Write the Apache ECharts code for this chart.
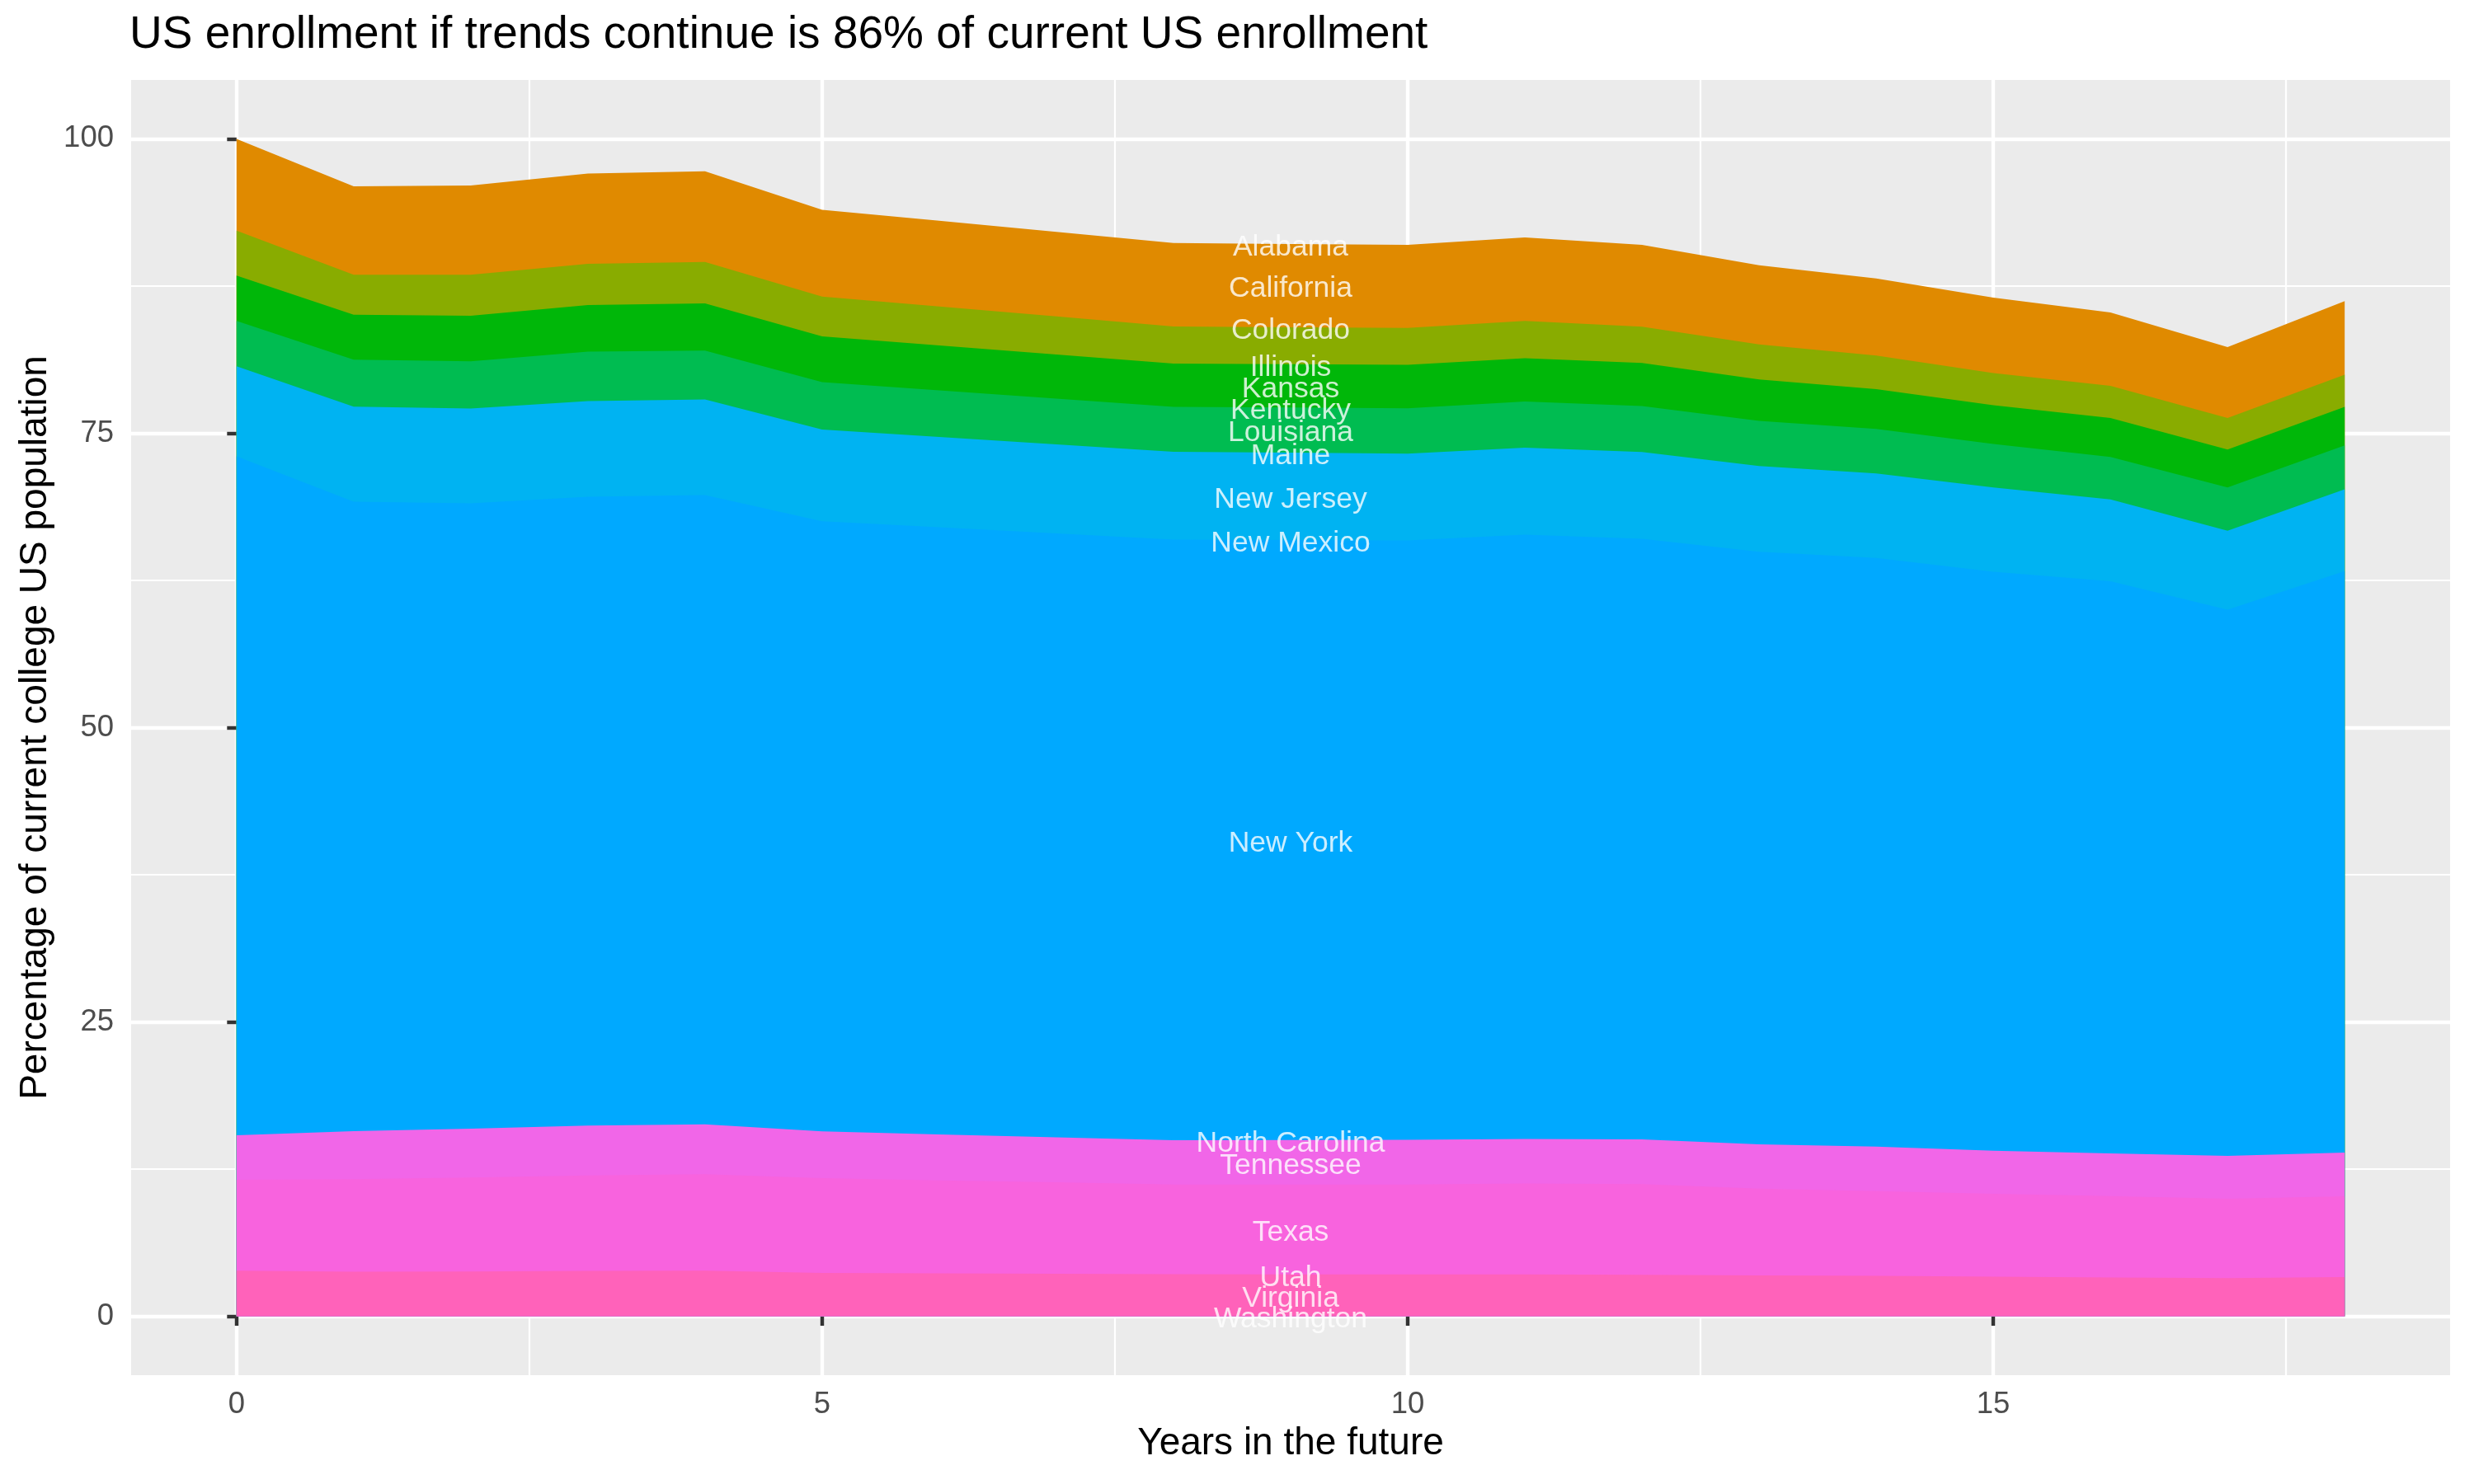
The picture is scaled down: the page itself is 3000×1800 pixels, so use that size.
<!DOCTYPE html>
<html>
<head>
<meta charset="utf-8">
<script src="https://cdn.jsdelivr.net/npm/echarts@6/dist/echarts.min.js"></script>
<style>
html,body{margin:0;padding:0;background:#ffffff;}
#chart{width:3000px;height:1800px;}
</style>
</head>
<body>
<div id="chart"></div>
<script>
// ---------- data ----------
const years = [0,1,2,3,4,5,6,7,8,9,10,11,12,13,14,15,16,17,18];
const xTicks = [0,5,10,15];
const xMinorTicks = [2.5,7.5,12.5,17.5];
const yTicks = [0,25,50,75,100];
const yMinorTicks = [12.5,37.5,62.5,87.5];
const labelYear = 9;

const Washington     = [0,0,0,0,0,0,0,0,0,0,0,0,0,0,0,0,0,0,0];
const Virginia       = [3.87,3.78,3.80,3.85,3.87,3.69,3.65,3.61,3.57,3.56,3.56,3.56,3.52,3.47,3.43,3.36,3.29,3.24,3.33];
const Utah           = [0,0,0,0,0,0,0,0,0,0,0,0,0,0,0,0,0,0,0];
const Texas          = [7.73,7.86,7.98,8.12,8.19,8.04,7.90,7.77,7.63,7.64,7.64,7.72,7.70,7.38,7.21,7.04,6.93,6.74,6.86];
const Tennessee      = [3.77,4.08,4.15,4.22,4.24,3.97,3.90,3.82,3.75,3.77,3.79,3.78,3.80,3.75,3.78,3.67,3.61,3.64,3.71];
const NorthCarolina  = [0,0,0,0,0,0,0,0,0,0,0,0,0,0,0,0,0,0,0];
const NewYork        = [57.67,53.47,53.12,53.41,53.45,51.83,51.56,51.29,51.02,50.96,50.91,51.33,51.02,50.34,49.98,49.17,48.59,46.40,49.38];
const NewMexico      = [0,0,0,0,0,0,0,0,0,0,0,0,0,0,0,0,0,0,0];
const NewJersey      = [7.65,8.07,8.04,8.12,8.11,7.79,7.68,7.57,7.46,7.42,7.37,7.39,7.37,7.28,7.19,7.16,6.95,6.69,6.96];
const Maine          = [0,0,0,0,0,0,0,0,0,0,0,0,0,0,0,0,0,0,0];
const Louisiana      = [3.84,3.99,4.01,4.20,4.16,4.01,3.94,3.87,3.80,3.83,3.85,3.92,3.89,3.83,3.78,3.69,3.62,3.69,3.73];
const Kentucky       = [0,0,0,0,0,0,0,0,0,0,0,0,0,0,0,0,0,0,0];
const Kansas         = [3.85,3.82,3.88,3.97,4.01,3.90,3.83,3.76,3.69,3.68,3.68,3.66,3.67,3.52,3.38,3.28,3.31,3.22,3.26];
const Illinois       = [0,0,0,0,0,0,0,0,0,0,0,0,0,0,0,0,0,0,0];
const Idaho          = [3.83,3.38,3.47,3.50,3.52,3.38,3.30,3.23,3.15,3.14,3.15,3.17,3.07,2.98,2.85,2.73,2.73,2.68,2.74];
const Colorado       = [0,0,0,0,0,0,0,0,0,0,0,0,0,0,0,0,0,0,0];
const California     = [7.79,7.51,7.58,7.67,7.70,7.37,7.28,7.18,7.09,7.07,7.05,7.09,6.96,6.72,6.55,6.42,6.23,6.02,6.24];
const Alabama        = [0,0,0,0,0,0,0,0,0,0,0,0,0,0,0,0,0,0,0];

// stack order, bottom to top
const stackNames = ['Washington','Virginia','Utah','Texas','Tennessee','North Carolina','New York','New Mexico',
  'New Jersey','Maine','Louisiana','Kentucky','Kansas','Illinois','Idaho','Colorado','California','Alabama'];
const stackValues = [Washington,Virginia,Utah,Texas,Tennessee,NorthCarolina,NewYork,NewMexico,
  NewJersey,Maine,Louisiana,Kentucky,Kansas,Illinois,Idaho,Colorado,California,Alabama];
const labelledStates = ['Washington','Virginia','Utah','Texas','Tennessee','North Carolina','New York','New Mexico',
  'New Jersey','Maine','Louisiana','Kentucky','Kansas','Illinois','Colorado','California','Alabama'];

// ---------- colours: ggplot hue palette over all states (+DC) ----------
const paletteSize = 51;
const paletteIndex = {'Alabama':1,'California':5,'Colorado':6,'Idaho':13,'Illinois':14,'Kansas':17,'Kentucky':18,
  'Louisiana':19,'Maine':20,'New Jersey':31,'New Mexico':32,'New York':33,'North Carolina':34,'Tennessee':43,
  'Texas':44,'Utah':45,'Virginia':47,'Washington':48};

function hcl(h, c, l) {
  const rad = h * Math.PI / 180;
  const U = c * Math.cos(rad), V = c * Math.sin(rad);
  const Xn = 95.047, Yn = 100, Zn = 108.883;
  const den = Xn + 15 * Yn + 3 * Zn;
  const un = 4 * Xn / den, vn = 9 * Yn / den;
  const Y = l > 8 ? Yn * Math.pow((l + 16) / 116, 3) : Yn * l / 903.3;
  const u = U / (13 * l) + un, v = V / (13 * l) + vn;
  const X = 9 * Y * u / (4 * v);
  const Z = -X / 3 - 5 * Y + 3 * Y / v;
  const x = X / 100, y = Y / 100, z = Z / 100;
  const lin = [
    3.240479 * x - 1.537150 * y - 0.498535 * z,
   -0.969256 * x + 1.875992 * y + 0.041556 * z,
    0.055648 * x - 0.204043 * y + 1.057311 * z
  ];
  const hex = lin.map(t => {
    let g = t <= 0.0031308 ? 12.92 * t : 1.055 * Math.pow(t, 1 / 2.4) - 0.055;
    g = Math.max(0, Math.min(1, g));
    return Math.round(g * 255).toString(16).padStart(2, '0');
  });
  return '#' + hex.join('');
}
function stateColor(name) {
  const i = paletteIndex[name];
  return hcl(15 + (i - 1) * 360 / paletteSize, 100, 65);
}

// ---------- stacking (cumulative tops per band) ----------
const running = years.map(() => 0);
const bandTops = stackValues.map(vals => {
  vals.forEach((v, i) => { running[i] += v; });
  return running.slice();
});

// ---------- chart ----------
const FONT = '"Liberation Sans", Arial, Helvetica, sans-serif';
const chart = echarts.init(document.getElementById('chart'), null, {renderer: 'canvas'});

// draw from the top band down so each lower band paints over the one above
const areaSeries = [];
for (let k = stackNames.length - 1; k >= 0; k--) {
  const name = stackNames[k];
  if (!stackValues[k].some(v => v > 0)) continue;
  const col = stateColor(name);
  areaSeries.push({
    name: name,
    type: 'line',
    data: years.map((yr, i) => [yr, bandTops[k][i]]),
    symbol: 'none',
    smooth: false,
    silent: true,
    lineStyle: {width: 0, opacity: 0},
    itemStyle: {color: col},
    areaStyle: {color: col, opacity: 1, origin: 'auto'},
    emphasis: {disabled: true},
    z: 2
  });
}

// label positions: middle of each state's band at labelYear
const li = years.indexOf(labelYear);
const labelData = [];
stackNames.forEach((name, k) => {
  if (labelledStates.indexOf(name) < 0) return;
  const top = bandTops[k][li];
  labelData.push([labelYear, top - stackValues[k][li] / 2, name]);
});

const labelSeries = {
  type: 'scatter',
  data: labelData,
  symbolSize: 0,
  silent: true,
  z: 10,
  label: {
    show: true,
    position: 'inside',
    offset: [0, 4],
    formatter: p => p.data[2],
    color: '#ffffff',
    fontSize: 35.5,
    fontFamily: FONT
  },
  emphasis: {disabled: true}
};

const option = {
  animation: false,
  backgroundColor: '#ffffff',
  title: {
    text: 'US enrollment if trends continue is 86% of current US enrollment',
    left: 157,
    top: 15,
    padding: 0,
    textStyle: {fontSize: 55, fontWeight: 'normal', color: '#000000', fontFamily: FONT}
  },
  grid: {left: 159, right: 29, top: 97, bottom: 132, show: true, backgroundColor: '#EBEBEB', borderWidth: 0},
  xAxis: [{
    type: 'value', min: -0.9, max: 18.9,
    name: 'Years in the future', nameLocation: 'middle', nameGap: 60,
    nameTextStyle: {fontSize: 46, color: '#000000', fontFamily: FONT},
    axisLine: {show: false},
    axisTick: {show: true, length: 11.5, customValues: xTicks, lineStyle: {color: '#333333', width: 4.45}},
    axisLabel: {show: true, customValues: xTicks, margin: 17, fontSize: 36.5, color: '#4D4D4D', fontFamily: FONT},
    splitLine: {show: true, lineStyle: {color: '#ffffff', width: 4.45}}
  }, {
    type: 'value', min: -0.9, max: 18.9, position: 'top',
    axisLine: {show: false},
    axisTick: {show: false, customValues: xMinorTicks},
    axisLabel: {show: false, customValues: xMinorTicks},
    splitLine: {show: true, lineStyle: {color: '#ffffff', width: 2.2}}
  }],
  yAxis: [{
    type: 'value', min: -5, max: 105,
    name: 'Percentage of current college US population', nameLocation: 'middle', nameGap: 93, nameRotate: 90,
    nameTextStyle: {fontSize: 46, color: '#000000', fontFamily: FONT},
    axisLine: {show: false},
    axisTick: {show: true, length: 11.5, customValues: yTicks, lineStyle: {color: '#333333', width: 4.45}},
    axisLabel: {show: true, customValues: yTicks, margin: 21, fontSize: 36.5, color: '#4D4D4D', fontFamily: FONT},
    splitLine: {show: true, lineStyle: {color: '#ffffff', width: 4.45}}
  }, {
    type: 'value', min: -5, max: 105, position: 'right',
    axisLine: {show: false},
    axisTick: {show: false, customValues: yMinorTicks},
    axisLabel: {show: false, customValues: yMinorTicks},
    splitLine: {show: true, lineStyle: {color: '#ffffff', width: 2.2}}
  }],
  series: areaSeries.concat([labelSeries])
};
chart.setOption(option);
</script>
</body>
</html>
